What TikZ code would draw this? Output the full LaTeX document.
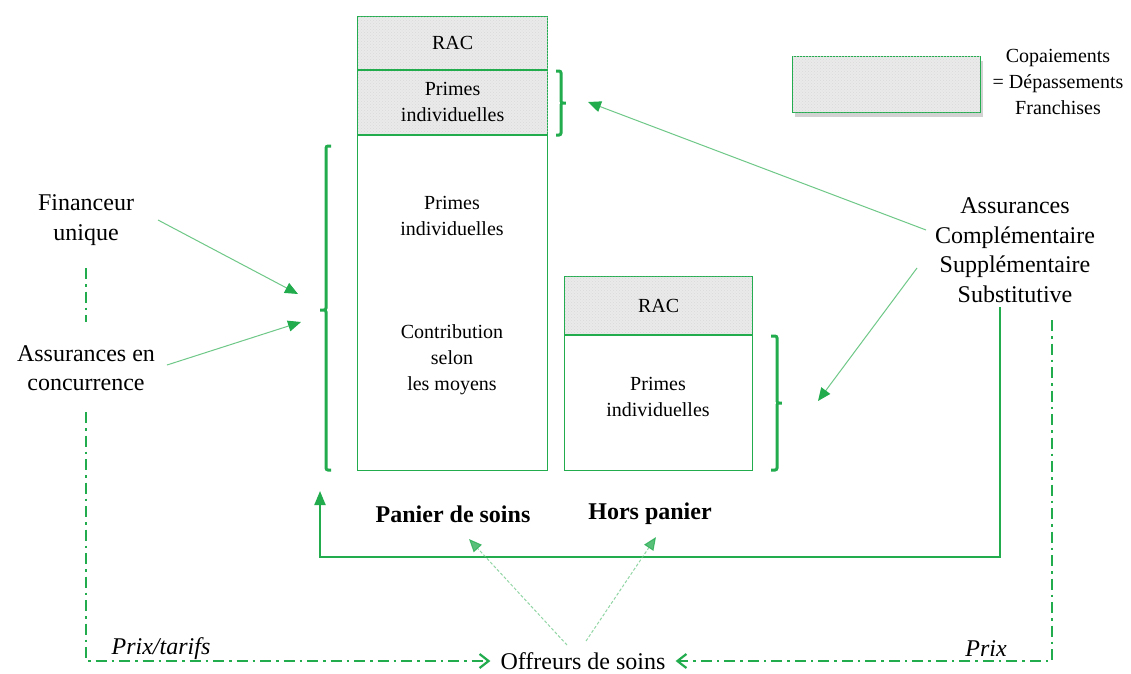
\documentclass[tikz,border=0pt]{standalone}
\usepackage{fontspec}
\setmainfont{Liberation Serif}
\usetikzlibrary{arrows.meta,patterns,shadows}
\definecolor{gr}{RGB}{34,172,78}
\definecolor{lgr}{RGB}{110,200,135}
\definecolor{shd}{RGB}{234,234,234}
\begin{document}
\begin{tikzpicture}[x=1pt,y=-1pt,
  box/.style={draw=gr, line width=1.2pt, inner sep=0pt, anchor=north west},
  shadebox/.style={box, fill=shd, postaction={pattern=crosshatch dots, pattern color=gray!30}},
  small/.style={font=\fontsize{20}{26}\selectfont, align=center, inner sep=0pt},
  big/.style={font=\fontsize{24}{29.5}\selectfont, align=center, inner sep=0pt},
  bracket/.style={draw=gr, line width=3pt, rounded corners=2pt},
  thinarrow/.style={draw=lgr, line width=1pt, -{Triangle[length=13pt,width=11pt,color=gr,fill=gr]}},
  faintarrow/.style={draw=lgr, line width=1pt, dash pattern=on 3pt off 2pt, opacity=0.75, -{Triangle[length=13pt,width=11pt,color=gr,fill=gr]}},
  dashdot/.style={draw=gr, line width=2.2pt, dash pattern=on 11pt off 5pt on 2.5pt off 5pt},
  solidline/.style={draw=gr, line width=2pt},
]
\useasboundingbox[fill=white] (0,0) rectangle (1131,673);

% left column
\node[shadebox, minimum width=190pt, minimum height=53pt] (rac1) at (357,16) {};
\node[shadebox, minimum width=190pt, minimum height=65pt] (pi1) at (357,69) {};
\node[box, minimum width=190pt, minimum height=336pt] (low1) at (357,134) {};
\draw[gr, line width=2pt] (rac1.south west) -- (rac1.south east);
\draw[gr, line width=2pt] (pi1.south west) -- (pi1.south east);
\node[small] (t-rac1) at (rac1.center) {RAC};
\node[small] (t-pi1) at (pi1.center) {Primes\\individuelles};
\node[small] (t-pi2) at (452,216) {Primes\\individuelles};
\node[small] (t-contr) at (452,360) {Contribution\\selon\\les moyens};

% right column
\node[shadebox, minimum width=188pt, minimum height=58pt] (rac2) at (564,276) {};
\node[box, minimum width=188pt, minimum height=136pt] (low2) at (564,334) {};
\draw[gr, line width=2pt] (rac2.south west) -- (rac2.south east);
\node[small] (t-rac2) at (rac2.center) {RAC};
\node[small] (t-pi3) at (658,397) {Primes\\individuelles};

% legend
\node[shadebox, minimum width=188pt, minimum height=56pt, drop shadow={opacity=0.35, shadow xshift=2pt, shadow yshift=-4pt}] (leg) at (792,56) {};
\node[small] (t-leg) at (1058,82) {Copaiements\\= Dépassements\\Franchises};

% brackets
\draw[bracket] (331,146) -- (326,146) -- (326,310) -- (319,310) -- (326,310) -- (326,470) -- (331,470);
\draw[bracket] (556,71) -- (561,71) -- (561,103) -- (567,103) -- (561,103) -- (561,135) -- (556,135);
\draw[bracket] (771,336) -- (777,336) -- (777,403) -- (783,403) -- (777,403) -- (777,470) -- (771,470);

% labels
\node[big] (fin) at (86,220) {Financeur\\unique};
\node[big] (ass) at (86,368) {Assurances en\\concurrence};
\node[big] (comp) at (1015,250) {Assurances\\Complémentaire\\Supplémentaire\\Substitutive};
\node[big, font=\fontsize{24}{29}\bfseries] (panier) at (453,514) {Panier de soins};
\node[big, font=\fontsize{24}{29}\bfseries] (hors) at (650,514) {Hors panier};
\node[big] (off) at (583,661) {Offreurs de soins};
\node[big, font=\fontsize{24}{29}\itshape] (prixt) at (161,649) {Prix/tarifs};
\node[big, font=\fontsize{24}{29}\itshape] (prix) at (986,649) {Prix};

% thin arrows
\coordinate (finS) at (158,220);
\coordinate (finE) at (298,294);
\coordinate (assS) at (167,365);
\coordinate (assE) at (301,322);
\draw[thinarrow] (finS) -- (finE);
\draw[thinarrow] (assS) -- (assE);
\coordinate (c1S) at (926,230);
\coordinate (c1E) at (588,102);
\coordinate (c2S) at (917,268);
\coordinate (c2E) at (818,401);
\draw[thinarrow] (c1S) -- (c1E);
\draw[thinarrow] (c2S) -- (c2E);

% solid line
\coordinate (solS) at (1000,307);
\coordinate (solE) at (320,491);
\draw[solidline, -{Triangle[length=14pt,width=11pt]}] (solS) |- (320,557) -- (solE);

% faint arrows from offreurs
\coordinate (o1) at (567,645);
\coordinate (o2) at (586,641);
\coordinate (p1) at (469,539);
\coordinate (h1) at (656,537);
\draw[faintarrow] (o1) -- (p1);
\draw[faintarrow] (o2) -- (h1);

% dash-dot lines
\draw[dashdot] (86,268) -- (86,322);
\draw[dashdot, -{Straight Barb[length=9pt,width=14pt]}] (86,412) |- ([xshift=-10pt]off.west);
\draw[dashdot, -{Straight Barb[length=9pt,width=14pt]}] (1052,320) |- ([xshift=10pt]off.east);
\end{tikzpicture}
\end{document}
